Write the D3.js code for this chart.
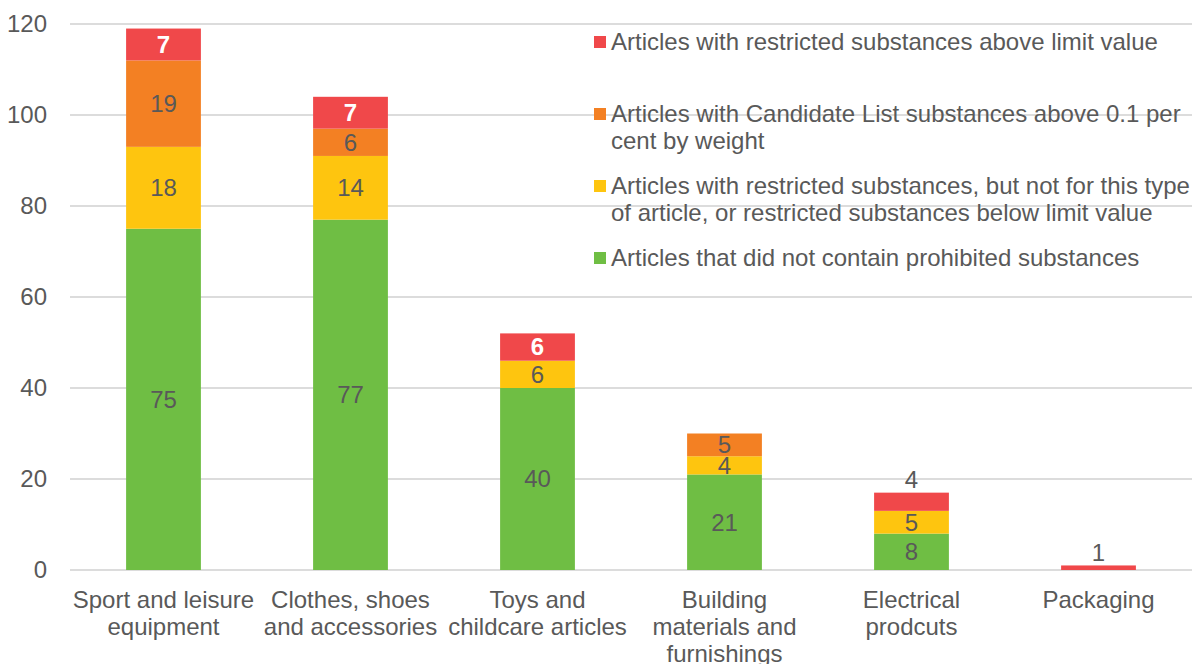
<!DOCTYPE html>
<html>
<head>
<meta charset="utf-8">
<script src="https://cdn.jsdelivr.net/npm/d3@7"></script>
<style>
  body { margin: 0; background: #fff; }
  svg { display: block; font-family: "Liberation Sans", Arial, sans-serif; }
</style>
</head>
<body>
<div id="chart"></div>
<script>
// Categories (line breaks as in the original axis labels)
const categories = [
  "Sport and leisure\nequipment",
  "Clothes, shoes\nand accessories",
  "Toys and\nchildcare articles",
  "Building\nmaterials and\nfurnishings",
  "Electrical\nprodcuts",
  "Packaging"
];

// Series values, bottom to top of the stack
const notProhibited = [75, 77, 40, 21, 8, 0];
const restrictedOtherType = [18, 14, 6, 4, 5, 0];
const candidateList = [19, 6, 0, 5, 0, 0];
const restrictedAbove = [7, 7, 6, 0, 4, 1];

const seriesNames = [
  "Articles that did not contain prohibited substances",
  "Articles with restricted substances, but not for this type\nof article, or restricted substances below limit value",
  "Articles with Candidate List substances above 0.1 per\ncent by weight",
  "Articles with restricted substances above limit value"
];
const seriesColors = ["#6fbe44", "#fec50f", "#f38023", "#f0484a"];

const yTicks = [0, 20, 40, 60, 80, 100, 120];

const width = 1192, height = 664;
const margin = {top: 24, right: 0, bottom: 94, left: 70};
const textColor = "#595959";
const fontSize = "24px";

const svg = d3.select("#chart").append("svg")
  .attr("width", width)
  .attr("height", height);

const x = d3.scaleBand()
  .domain(d3.range(categories.length))
  .range([margin.left, width - margin.right])
  .paddingInner(0.6)
  .paddingOuter(0.3);

const y = d3.scaleLinear()
  .domain([0, 120])
  .range([height - margin.bottom, margin.top]);

// Gridlines
svg.append("g")
  .selectAll("line")
  .data(yTicks)
  .join("line")
    .attr("x1", margin.left)
    .attr("x2", width - margin.right)
    .attr("y1", d => y(d))
    .attr("y2", d => y(d))
    .attr("stroke", "#dcdcdc")
    .attr("stroke-width", 2);

// Y axis labels
const yAxis = svg.append("g")
  .attr("transform", `translate(${margin.left},0)`)
  .call(d3.axisLeft(y).tickValues(yTicks).tickSize(0).tickPadding(23));
yAxis.select(".domain").remove();
yAxis.selectAll("text")
  .attr("fill", textColor)
  .style("font-size", fontSize)
  .style("font-family", "'Liberation Sans', Arial, sans-serif");

// Stack the data
const rows = categories.map((c, i) => ({
  i: i,
  s0: notProhibited[i],
  s1: restrictedOtherType[i],
  s2: candidateList[i],
  s3: restrictedAbove[i]
}));
const stack = d3.stack().keys(["s0", "s1", "s2", "s3"])(rows);

const layers = svg.append("g")
  .selectAll("g")
  .data(stack)
  .join("g")
    .attr("fill", (d, k) => seriesColors[k]);

layers.selectAll("rect")
  .data(d => d.filter(p => p[1] - p[0] > 0))
  .join("rect")
    .attr("x", p => x(p.data.i))
    .attr("width", x.bandwidth())
    .attr("y", p => y(p[1]))
    .attr("height", p => y(p[0]) - y(p[1]));

// Data labels
stack.forEach((layer, k) => {
  layer.forEach(p => {
    const v = p[1] - p[0];
    if (v <= 0) return;
    const cx = x(p.data.i) + x.bandwidth() / 2;
    const top = k === 3;
    const outside = top && v < 5;
    svg.append("text")
      .attr("x", cx)
      .attr("y", outside ? y(p[1]) - 13 : (y(p[0]) + y(p[1])) / 2)
      .attr("dy", "0.35em")
      .attr("text-anchor", "middle")
      .attr("fill", top && !outside ? "#fff" : textColor)
      .attr("font-weight", top && !outside ? "bold" : "normal")
      .style("font-size", fontSize)
      .text(v);
  });
});

// Category labels
const catG = svg.append("g");
categories.forEach((c, i) => {
  const t = catG.append("text")
    .attr("text-anchor", "middle")
    .attr("fill", textColor)
    .style("font-size", fontSize);
  c.split("\n").forEach((line, j) => {
    t.append("tspan")
      .attr("x", x(i) + x.bandwidth() / 2)
      .attr("y", y(0) + 30 + j * 27)
      .attr("dy", "0.35em")
      .text(line);
  });
});

// Legend (top series first)
const legend = svg.append("g").attr("transform", "translate(594,42)");
[3, 2, 1, 0].forEach((k, n) => {
  const g = legend.append("g").attr("transform", `translate(0,${n * 72})`);
  g.append("rect")
    .attr("x", 0).attr("y", -6)
    .attr("width", 12).attr("height", 12)
    .attr("fill", seriesColors[k]);
  const t = g.append("text")
    .attr("fill", textColor)
    .style("font-size", fontSize);
  seriesNames[k].split("\n").forEach((line, j) => {
    t.append("tspan")
      .attr("x", 17)
      .attr("y", j * 27)
      .attr("dy", "0.35em")
      .text(line);
  });
});
</script>
</body>
</html>
